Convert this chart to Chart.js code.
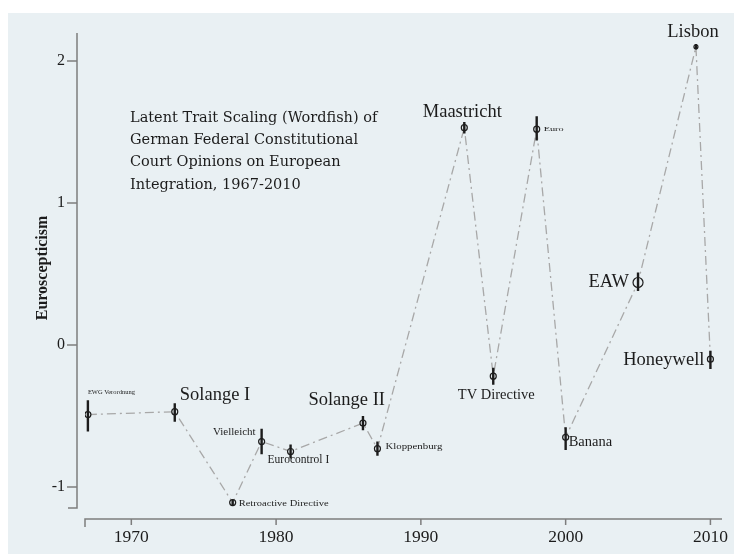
<!DOCTYPE html>
<html><head><meta charset="utf-8">
<script src="https://cdn.jsdelivr.net/npm/chart.js@4/dist/chart.umd.min.js"></script>
<style>html,body{margin:0;padding:0;background:#fff;}#wrap{width:734px;height:554px;position:relative;}</style>
</head><body><div id="wrap"><canvas id="c" width="734" height="554"></canvas></div>
<script>
// ---- data ----
const years   = [1967, 1973, 1977, 1979, 1981, 1986, 1987, 1993, 1995, 1998, 2000, 2005, 2009, 2010];
const scores  = [-0.49, -0.47, -1.11, -0.68, -0.75, -0.55, -0.73, 1.53, -0.22, 1.52, -0.65, 0.44, 2.10, -0.10];
const ciLow   = [-0.61, -0.54, -1.13, -0.77, -0.80, -0.60, -0.78, 1.49, -0.28, 1.44, -0.74, 0.38, 2.08, -0.17];
const ciHigh  = [-0.39, -0.41, -1.09, -0.59, -0.70, -0.50, -0.68, 1.57, -0.16, 1.61, -0.58, 0.51, 2.12, -0.04];
const caseNames = ["EWG Verordnung", "Solange I", "Retroactive Directive", "Vielleicht", "Eurocontrol I",
  "Solange II", "Kloppenburg", "Maastricht", "TV Directive", "Euro", "Banana", "EAW", "Lisbon", "Honeywell"];
const xTicks = [1970, 1980, 1990, 2000, 2010];
const yTicks = [-1, 0, 1, 2];
const titleLines = ["Latent Trait Scaling (Wordfish) of", "German Federal Constitutional",
  "Court Opinions on European", "Integration, 1967-2010"];
const yTitle = "Euroscepticism";

// ---- styles (label placement relative to each point; w = stretch to width) ----
const labelStyle = [
  {dx: 0, dy: -22, size: 6.5, align: 'left', w: 47},
  {dx: 5, dy: -17, size: 18.5, align: 'left'},
  {dx: 6, dy: 1, size: 9, align: 'left', w: 90},
  {dx: -6, dy: -9, size: 11, align: 'right'},
  {dx: -23, dy: 9, size: 11.5, align: 'left'},
  {dx: 22, dy: -23, size: 18.5, align: 'right'},
  {dx: 8, dy: -2, size: 8, align: 'left', w: 57},
  {dx: -2, dy: -16, size: 18.5, align: 'center'},
  {dx: 3, dy: 19, size: 14.5, align: 'center'},
  {dx: 7, dy: 0, size: 6.5, align: 'left', w: 20},
  {dx: 3, dy: 5, size: 14.5, align: 'left'},
  {dx: -9, dy: 0, size: 18.5, align: 'right'},
  {dx: -3, dy: -15, size: 18.5, align: 'center'},
  {dx: -6, dy: 1, size: 18.5, align: 'right'}
];
const markerRadius = [3, 3, 3, 3, 3, 3, 3, 3, 3, 3, 3, 5, 2, 3];
const BG = '#e9f0f3';
const AXIS = '#7d7d7d';
const INK = '#1c1c1c';
const SERIF = '"Liberation Serif", "DejaVu Serif", serif';

const deco = {
  id: 'deco',
  beforeDraw(chart) {
    const c = chart.ctx;
    c.save();
    c.fillStyle = '#fff';
    c.fillRect(0, 0, chart.width, chart.height);
    c.fillStyle = BG;
    c.fillRect(8, 13, chart.width - 8, chart.height - 13);
    c.restore();
  },
  afterDraw(chart) {
    const c = chart.ctx, xs = chart.scales.x, ys = chart.scales.y, a = chart.chartArea;
    c.save();
    // axes
    c.strokeStyle = AXIS; c.lineWidth = 1.5;
    const yAxisX = 77, xAxisY = 519;
    c.beginPath();
    c.moveTo(yAxisX, a.top); c.lineTo(yAxisX, a.bottom); c.lineTo(68, a.bottom);
    yTicks.forEach(v => { const p = ys.getPixelForValue(v); c.moveTo(67, p); c.lineTo(yAxisX, p); });
    c.moveTo(a.left, 527); c.lineTo(a.left, xAxisY); c.lineTo(a.right, xAxisY);
    xTicks.forEach(v => { const p = xs.getPixelForValue(v); c.moveTo(p, xAxisY); c.lineTo(p, 525); });
    c.stroke();
    // error bars
    c.strokeStyle = INK; c.lineWidth = 2.4;
    c.beginPath();
    years.forEach((yr, i) => {
      const px = xs.getPixelForValue(yr);
      c.moveTo(px, ys.getPixelForValue(ciLow[i]));
      c.lineTo(px, ys.getPixelForValue(ciHigh[i]));
    });
    c.stroke();
    // case labels
    c.fillStyle = INK; c.textBaseline = 'middle';
    years.forEach((yr, i) => {
      const s = labelStyle[i];
      const px = xs.getPixelForValue(yr), py = ys.getPixelForValue(scores[i]);
      c.font = s.size + 'px ' + SERIF;
      c.textAlign = s.align;
      if (s.w) {
        const mw = c.measureText(caseNames[i]).width;
        const k = s.w / mw;
        c.save();
        c.translate(px + s.dx, py + s.dy);
        c.scale(k, 1);
        c.fillText(caseNames[i], 0, 0);
        c.restore();
      } else {
        c.fillText(caseNames[i], px + s.dx, py + s.dy);
      }
    });
    // inset title
    c.font = '14.5px "DejaVu Serif", serif';
    c.textAlign = 'left';
    titleLines.forEach((t, i) => c.fillText(t, 130, 118 + i * 22.3, 250));
    // y axis title
    c.save();
    c.translate(43, 268);
    c.rotate(-Math.PI / 2);
    c.textAlign = 'center';
    c.font = 'bold 16px ' + SERIF;
    c.fillText(yTitle, 0, 0);
    c.restore();
    c.restore();
  }
};

new Chart(document.getElementById('c'), {
  type: 'scatter',
  data: {
    datasets: [{
      data: years.map((yr, i) => ({x: yr, y: scores[i]})),
      showLine: true,
      borderColor: '#a8a8a8',
      borderWidth: 1.3,
      borderDash: [9, 4, 2, 4],
      pointRadius: markerRadius,
      pointBorderColor: INK,
      pointBorderWidth: 1.2,
      pointBackgroundColor: BG
    }]
  },
  options: {
    responsive: false,
    animation: false,
    events: [],
    layout: {padding: {top: 33, right: 12, left: 0, bottom: 0}},
    plugins: {legend: {display: false}, tooltip: {enabled: false}},
    scales: {
      x: {
        type: 'linear', min: 1966.8, max: 2010.8,
        afterBuildTicks: s => { s.ticks = xTicks.map(v => ({value: v})); },
        afterFit: s => { s.height = 46; s.paddingLeft = 0; s.paddingRight = 0; },
        grid: {display: false, drawTicks: false}, border: {display: false},
        ticks: {padding: 19, maxRotation: 0, color: INK, font: {family: SERIF, size: 17.5}, callback: v => String(v)}
      },
      y: {
        min: -1.148, max: 2.197,
        afterBuildTicks: s => { s.ticks = yTicks.map(v => ({value: v})); },
        afterFit: s => { s.width = 85; s.paddingTop = 0; s.paddingBottom = 0; },
        grid: {display: false, drawTicks: false}, border: {display: false},
        ticks: {padding: 20, color: INK, font: {family: SERIF, size: 16}, callback: v => String(v)}
      }
    }
  },
  plugins: [deco]
});
</script></body></html>
